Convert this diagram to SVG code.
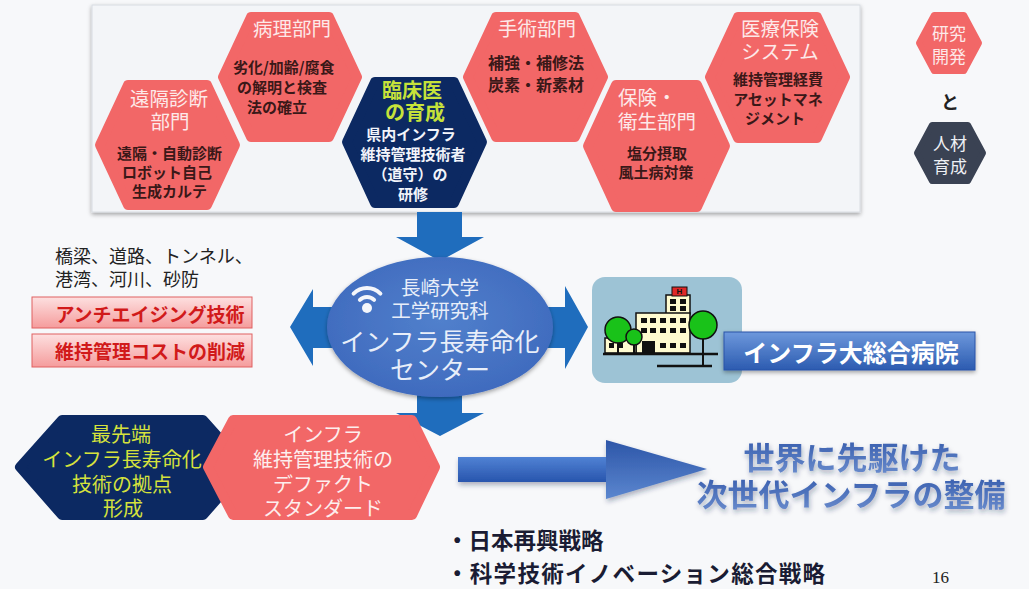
<svg xmlns="http://www.w3.org/2000/svg" width="1029" height="589" viewBox="0 0 1029 589">
  <defs>
    <style>
      text { font-family: "Noto Sans CJK JP", "Noto Sans", sans-serif; }
      .c { text-anchor: middle; dominant-baseline: central; }
      .s { text-anchor: start; dominant-baseline: central; }
      .hexR { fill: #f26767; stroke: #f26767; stroke-width: 10; stroke-linejoin: round; }
      .hexN { fill: #0c2962; stroke: #0c2962; stroke-width: 10; stroke-linejoin: round; }
      .ttl { fill: #fde9e9; font-size: 19.5px; }
      .body { fill: #3a1818; font-size: 15px; font-weight: 700; }
      .wbody { fill: #f2f4fa; font-size: 15px; font-weight: 700; }
      .lime { fill: #c6e23a; font-size: 20px; font-weight: 700; }
      .arrow { fill: #1f6dbd; }
      .pinkbox { fill: url(#pinkGrad); stroke: #e06060; stroke-width: 1; }
      .pinktxt { fill: #d11a1a; font-size: 19px; font-weight: 700; }
      .win { fill: #111; }
      .outline { stroke: #111; stroke-width: 1.5; }
      .yl { font-size: 20px; fill: #d6e23c; }
      .pk { font-size: 20px; fill: #fdeeee; }
      .ell { fill: #e8eef9; }
      .strat { font-size: 22.5px; font-weight: 700; fill: #1a1c33; }
    </style>
    <linearGradient id="pinkGrad" x1="0" y1="0" x2="0" y2="1">
      <stop offset="0" stop-color="#fde0e0"/>
      <stop offset="1" stop-color="#f59c9c"/>
    </linearGradient>
    <radialGradient id="ellGrad" cx="0.5" cy="0.45" r="0.6">
      <stop offset="0" stop-color="#5180cc"/>
      <stop offset="1" stop-color="#3e69bd"/>
    </radialGradient>
    <linearGradient id="labelGrad" x1="0" y1="0" x2="0" y2="1">
      <stop offset="0" stop-color="#6d98dc"/>
      <stop offset="1" stop-color="#2c5bb0"/>
    </linearGradient>
    <linearGradient id="bigArrowGrad" x1="0" y1="0" x2="0" y2="1">
      <stop offset="0" stop-color="#5082d4"/>
      <stop offset="1" stop-color="#2855ad"/>
    </linearGradient>
    <linearGradient id="headGrad" x1="0" y1="0" x2="0" y2="1">
      <stop offset="0" stop-color="#2d56a8"/>
      <stop offset="1" stop-color="#5b86cf"/>
    </linearGradient>
    <linearGradient id="goalGrad" x1="0" y1="0" x2="0" y2="1">
      <stop offset="0" stop-color="#2f55a8"/>
      <stop offset="1" stop-color="#6d8fcf"/>
    </linearGradient>
    <filter id="shadow" x="-10%" y="-10%" width="120%" height="130%">
      <feDropShadow dx="0" dy="2" stdDeviation="2" flood-color="#000" flood-opacity="0.35"/>
    </filter>
    <filter id="softShadow" x="-10%" y="-20%" width="120%" height="150%">
      <feDropShadow dx="1" dy="3" stdDeviation="2.5" flood-color="#1a2a50" flood-opacity="0.35"/>
    </filter>
  </defs>

  <!-- page background -->
  <rect x="0" y="0" width="1029" height="589" fill="#f7f8fa"/>

  <!-- upper panel holding the department hexagons -->
  <g id="panel">
    <rect x="92" y="5" width="768" height="207" fill="#f3f5f8" stroke="#d8dce2" stroke-width="1" filter="url(#shadow)"/>
  </g>

  <!-- connectors: block arrows -->
  <g id="connectors">
    <polygon class="arrow" points="417,212 462,212 462,237 484,237 440,261 396,237 417,237"/>
    <polygon class="arrow" points="290,327 313,289 313,307 565,307 565,286 588,327 565,369 565,348 313,348 313,366"/>
    <polygon class="arrow" points="417,385 462,385 462,413 484,413 440,436 396,413 417,413"/>
    <g filter="url(#softShadow)">
      <rect x="458" y="457" width="150" height="25" fill="url(#bigArrowGrad)"/>
      <polygon points="606,440 707,469 606,499" fill="url(#headGrad)"/>
    </g>
  </g>

  <!-- research departments -->
  <g id="remote-diagnosis">
    <polygon class="hexR" points="100,145 128,85 207,85 235,145 207,205 128,205"/>
    <text class="c ttl" x="169" y="97">遠隔診断</text>
    <text class="c ttl" x="170" y="120">部門</text>
    <text class="s body" x="117" y="152">遠隔・自動診断</text>
    <text class="s body" x="122" y="171">ロボット自己</text>
    <text class="s body" x="132" y="190">生成カルテ</text>
  </g>

  <g id="pathology">
    <polygon class="hexR" points="223,77 251,17 329,17 357,77 329,137 251,137"/>
    <text class="c ttl" x="292" y="27">病理部門</text>
    <text class="s body" x="233" y="66">劣化/加齢/腐食</text>
    <text class="s body" x="237" y="86">の解明と検査</text>
    <text class="s body" x="247" y="106">法の確立</text>
  </g>

  <g id="clinician-training">
    <polygon class="hexN" points="347,142 375,82 454,82 482,142 454,203 375,203"/>
    <text class="c lime" x="412" y="89">臨床医</text>
    <text class="c lime" x="415" y="111">の育成</text>
    <text class="c wbody" x="411" y="133">県内インフラ</text>
    <text class="c wbody" x="413" y="153">維持管理技術者</text>
    <text class="c wbody" x="410" y="173">（道守）の</text>
    <text class="c wbody" x="413" y="193">研修</text>
  </g>

  <g id="surgery">
    <polygon class="hexR" points="468,77 496,17 575,17 603,77 575,137 496,137"/>
    <text class="c ttl" x="537" y="27">手術部門</text>
    <text class="c body" x="536" y="62" style="font-size:16px">補強・補修法</text>
    <text class="c body" x="536" y="84" style="font-size:16px">炭素・新素材</text>
  </g>

  <g id="hygiene">
    <polygon class="hexR" points="588,146 616,85 697,85 725,146 697,207 616,207"/>
    <text class="s ttl" x="618" y="96">保険・</text>
    <text class="s ttl" x="618" y="120">衛生部門</text>
    <text class="c body" x="657" y="152">塩分摂取</text>
    <text class="c body" x="656" y="171">風土病対策</text>
  </g>

  <g id="insurance-system">
    <polygon class="hexR" points="710,77 738,17 817,17 845,77 817,138 738,138"/>
    <text class="c ttl" x="780" y="27">医療保険</text>
    <text class="c ttl" x="780" y="50">システム</text>
    <text class="c body" x="778" y="78">維持管理経費</text>
    <text class="c body" x="778" y="98">アセットマネ</text>
    <text class="c body" x="775" y="117">ジメント</text>
  </g>

  <!-- legend -->
  <g id="legend-research">
    <polygon class="hexR" points="919,43 934,15 964,15 979,43 964,71 934,71" style="stroke-width:6"/>
    <text class="c ttl" x="949" y="32" style="font-size:17px">研究</text>
    <text class="c ttl" x="949" y="55" style="font-size:17px">開発</text>
  </g>
  <g id="legend-and">
    <text class="c" x="950" y="101" style="font-size:18px;font-weight:700;fill:#222">と</text>
  </g>
  <g id="legend-training">
    <polygon points="917,153 932,125 968,125 983,153 968,181 932,181" style="fill:#3a4253;stroke:#3a4253;stroke-width:6;stroke-linejoin:round"/>
    <text class="c" x="950" y="142" style="font-size:17px;fill:#eef0f4">人材</text>
    <text class="c" x="950" y="165" style="font-size:17px;fill:#eef0f4">育成</text>
  </g>

  <!-- infrastructure targets and goals -->
  <g id="targets">
    <text class="s" x="55" y="255" style="font-size:18px;fill:#222">橋梁、道路、トンネル、</text>
    <text class="s" x="55" y="278" style="font-size:18px;fill:#222">港湾、河川、砂防</text>
  </g>
  <g id="anti-aging">
    <rect class="pinkbox" x="32" y="297" width="220" height="31"/>
    <text class="c pinktxt" x="150" y="313">アンチエイジング技術</text>
  </g>
  <g id="cost-reduction">
    <rect class="pinkbox" x="32" y="334" width="220" height="33"/>
    <text class="c pinktxt" x="150" y="350">維持管理コストの削減</text>
  </g>

  <!-- central institute -->
  <g id="center">
    <ellipse cx="440" cy="327" rx="113" ry="70" fill="url(#ellGrad)" filter="url(#shadow)"/>
    <g fill="none" stroke="#f4f6fb" stroke-width="4" stroke-linecap="round">
      <path d="M353.6,293.6 A19,19 0 0 1 380.4,293.6"/>
      <path d="M359.9,299.9 A10,10 0 0 1 374.1,299.9"/>
    </g>
    <circle cx="367" cy="308" r="5" fill="#f4f6fb"/>
    <text class="c ell" x="440" y="286" style="font-size:19.5px">長崎大学</text>
    <text class="c ell" x="440" y="309" style="font-size:19.5px">工学研究科</text>
    <text class="c ell" x="440" y="340" style="font-size:25px">インフラ長寿命化</text>
    <text class="c ell" x="440" y="368" style="font-size:25px">センター</text>
  </g>

  <!-- hospital metaphor -->
  <g id="hospital">
    <rect x="592" y="277" width="150" height="106" rx="13" fill="#9dc3d5"/>
    <!-- building -->
    <rect class="outline" x="666" y="295" width="24" height="19" fill="#fffbd0"/>
    <rect x="672" y="287" width="15" height="9" fill="#e02828" stroke="#111" stroke-width="1"/>
    <text class="c" x="679.5" y="291.5" style="font-size:8px;font-weight:700;fill:#111;font-family:'Liberation Sans',sans-serif">H</text>
    <rect class="outline" x="636" y="313" width="54" height="40" fill="#fffbd0"/>
    <rect class="outline" x="605" y="338" width="31" height="15" fill="#fffbd0"/>
    <g class="win">
      <rect x="670" y="299" width="6" height="5"/><rect x="680" y="299" width="6" height="5"/>
      <rect x="670" y="306" width="6" height="5"/><rect x="680" y="306" width="6" height="5"/>
      <rect x="641" y="318" width="6" height="5"/><rect x="650" y="318" width="6" height="5"/><rect x="660" y="318" width="6" height="5"/><rect x="670" y="318" width="6" height="5"/><rect x="680" y="318" width="6" height="5"/>
      <rect x="641" y="328" width="6" height="5"/><rect x="650" y="328" width="6" height="5"/><rect x="660" y="328" width="6" height="5"/><rect x="670" y="328" width="6" height="5"/><rect x="680" y="328" width="6" height="5"/>
      <rect x="660" y="343" width="6" height="5"/><rect x="670" y="343" width="6" height="5"/><rect x="680" y="343" width="6" height="5"/>
      <rect x="609" y="343" width="5" height="5"/><rect x="618" y="343" width="5" height="5"/>
      <rect x="642" y="341" width="13" height="12"/>
    </g>
    <!-- trees -->
    <g stroke="#111" stroke-width="2">
      <line x1="618" y1="340" x2="618" y2="354"/>
      <line x1="634" y1="343" x2="634" y2="354"/>
      <line x1="703" y1="336" x2="703" y2="367"/>
    </g>
    <circle cx="618" cy="330" r="13" fill="#19c219" stroke="#111" stroke-width="1.5"/>
    <circle cx="634" cy="337" r="8" fill="#19c219" stroke="#111" stroke-width="1.5"/>
    <circle cx="703" cy="325" r="14" fill="#19c219" stroke="#111" stroke-width="1.5"/>
    <g stroke="#111" stroke-width="2.5">
      <line x1="603" y1="354" x2="718" y2="354"/>
      <line x1="657" y1="366" x2="712" y2="366"/>
    </g>
  </g>
  <g id="hospital-label">
    <rect x="724" y="332" width="251" height="38" fill="url(#labelGrad)" stroke="#2a55a8" stroke-width="1" filter="url(#shadow)"/>
    <text class="c" x="851" y="351" style="font-size:24px;font-weight:700;fill:#ffffff">インフラ大総合病院</text>
  </g>

  <!-- outcomes -->
  <g id="hub">
    <polygon class="hexN" points="20,467 62,420 203,420 245,467 203,515 62,515"/>
    <text class="c yl" x="121" y="433">最先端</text>
    <text class="c yl" x="122" y="458">インフラ長寿命化</text>
    <text class="c yl" x="122" y="483">技術の拠点</text>
    <text class="c yl" x="123" y="507">形成</text>
  </g>
  <g id="de-facto">
    <polygon class="hexR" points="208,467 233,420 412,420 435,467 412,515 233,515"/>
    <text class="c pk" x="323" y="433">インフラ</text>
    <text class="c pk" x="323" y="458">維持管理技術の</text>
    <text class="c pk" x="323" y="483">デファクト</text>
    <text class="c pk" x="323" y="507">スタンダード</text>
  </g>

  <g id="goal" filter="url(#softShadow)">
    <text class="c" x="852" y="455" style="font-size:31px;font-weight:700;fill:url(#goalGrad)">世界に先駆けた</text>
    <text class="c" x="851" y="492" style="font-size:31px;font-weight:700;fill:url(#goalGrad)">次世代インフラの整備</text>
  </g>

  <g id="strategies">
    <text class="s strat" x="446" y="539">・日本再興戦略</text>
    <text class="s strat" x="446" y="572" style="letter-spacing:1.3px">・科学技術イノベーション総合戦略</text>
  </g>
  <g id="page-number">
    <text x="932" y="583" style="font-family:'Liberation Serif',serif;font-size:17px;fill:#222">16</text>
  </g>
</svg>
